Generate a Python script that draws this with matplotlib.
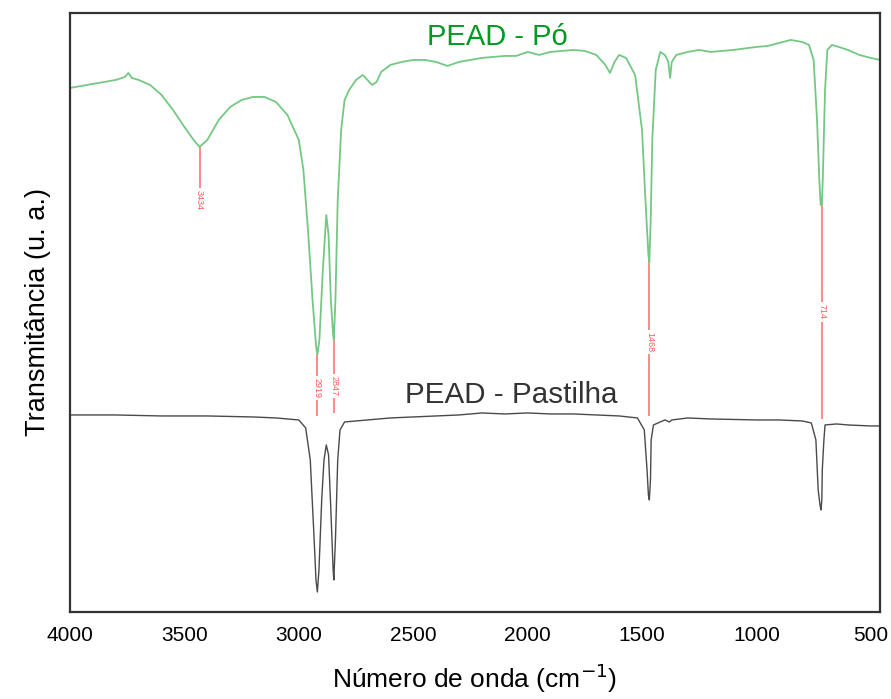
import matplotlib.pyplot as plt

plt.rcParams['font.family'] = ['Liberation Sans', 'DejaVu Sans']

# PEAD - Po spectrum (wavenumber, transmittance in arbitrary units)
po_wn = [4000, 3900, 3800, 3760, 3745, 3730, 3700, 3650, 3600, 3550, 3500, 3460, 3434,
         3400, 3350, 3300, 3250, 3200, 3150, 3100, 3050, 3000, 2980, 2960, 2940, 2925,
         2919, 2910, 2895, 2880, 2870, 2860, 2850, 2847, 2840, 2830, 2815, 2800, 2780,
         2750, 2720, 2700, 2680, 2660, 2640, 2600, 2550, 2500, 2450, 2400, 2350, 2300,
         2200, 2100, 2050, 2000, 1950, 1900, 1800, 1750, 1700, 1660, 1640, 1620, 1600,
         1570, 1530, 1500, 1485, 1472, 1468, 1462, 1455, 1440, 1420, 1400, 1385, 1377,
         1370, 1350, 1300, 1250, 1200, 1100, 1000, 950, 900, 850, 800, 770, 750, 735,
         725, 719, 714, 710, 700, 690, 670, 640, 600, 550, 500, 460]
po_t = [524, 528, 532, 535, 539, 534, 532, 527, 517, 502, 485, 472, 465,
        472, 492, 505, 512, 515, 515, 510, 497, 472, 442, 382, 312, 267,
        257, 272, 342, 397, 377, 312, 277, 272, 312, 412, 482, 512, 522,
        532, 537, 532, 527, 530, 540, 547, 550, 552, 552, 550, 546, 550,
        554, 556, 556, 560, 557, 560, 562, 561, 557, 547, 539, 550, 557,
        554, 537, 482, 412, 357, 350, 392, 472, 542, 560, 557, 550, 534,
        550, 557, 560, 562, 560, 562, 565, 566, 569, 572, 570, 567, 552, 492,
        432, 407, 407, 432, 522, 562, 567, 565, 562, 557, 554, 552]

# PEAD - Pastilha spectrum
pa_wn = [4000, 3800, 3600, 3400, 3200, 3100, 3000, 2970, 2950, 2935, 2925, 2919, 2912,
         2900, 2890, 2880, 2870, 2860, 2850, 2847, 2840, 2830, 2820, 2800, 2700, 2600,
         2500, 2400, 2300, 2200, 2100, 2000, 1900, 1800, 1700, 1600, 1520, 1490, 1478,
         1472, 1468, 1463, 1460, 1450, 1400, 1380, 1370, 1300, 1200, 1000, 900, 800,
         760, 740, 730, 722, 718, 714, 712, 705, 700, 650, 600, 500, 460]
pa_t = [197, 197, 196, 196, 195, 194, 192, 184, 152, 82, 32, 20, 42,
        112, 152, 167, 157, 102, 42, 32, 72, 152, 182, 190, 192, 194,
        195, 196, 197, 199, 198, 199, 198, 198, 197, 196, 194, 182, 142,
        117, 112, 132, 172, 187, 192, 190, 192, 194, 193, 192, 192, 191,
        189, 172, 122, 107, 102, 112, 142, 172, 187, 188, 187, 186, 186]

# peak labels: position, tip, label centre, line end
peaks = [3434, 2919, 2847, 1468, 714]
peak_tip = [464, 257, 272, 350, 407]
label_y = [412, 224, 226, 270, 300]
line_end = [412, 197, 200, 197, 194]

fig = plt.figure(figsize=(8.91, 6.99), dpi=100)
ax = fig.add_axes([0.0786, 0.1245, 0.909, 0.857])

ax.plot(po_wn, po_t, color='#74c884', lw=1.3)
ax.plot(pa_wn, pa_t, color='#4a4a4a', lw=1.0)

for p, tip, ly, end in zip(peaks, peak_tip, label_y, line_end):
    ax.plot([p, p], [tip, end], color='#ff8a8a', lw=1.4, zorder=1)
    ax.text(p, ly, str(p), rotation=-90, fontsize=6.5, color='#ff5a5a',
            ha='center', va='center',
            bbox=dict(facecolor='white', edgecolor='none', pad=1.5), zorder=2)

ax.text(2130, 575, 'PEAD - Pó', color='#009a22', fontsize=21,
        ha='center', va='center')
ax.text(2070, 217, 'PEAD - Pastilha', color='#333333', fontsize=21.3,
        ha='center', va='center')

ax.set_xlim(4000, 460)
ax.set_ylim(0, 599)
ax.set_xticks([4000, 3500, 3000, 2500, 2000, 1500, 1000, 500])
ax.set_yticks([])
ax.tick_params(axis='x', length=0, pad=10, labelsize=15)
for s in ax.spines.values():
    s.set_linewidth(1.6)
    s.set_color('#333333')

ax.set_xlabel('Número de onda (cm$^{-1}$)', fontsize=19, labelpad=12)
ax.set_ylabel('Transmitância (u. a.)', fontsize=19.5, labelpad=14)

fig.savefig('out.png', dpi=100)
